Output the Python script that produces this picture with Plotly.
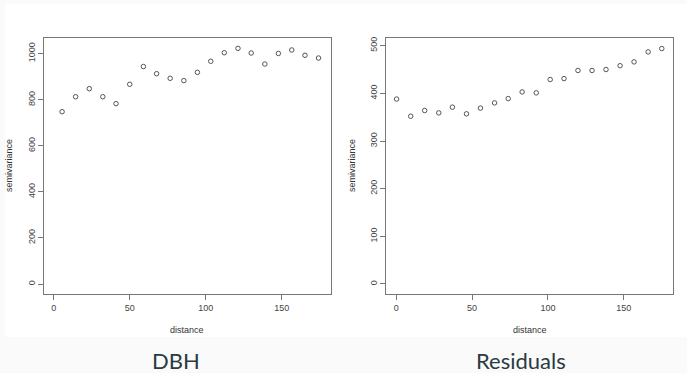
import plotly.graph_objects as go

# DBH variogram
dbh_dist = [5.5, 14.4, 23.4, 32.3, 41.0, 50.0, 59.0, 67.7, 76.6, 85.6,
            94.5, 103.3, 112.2, 121.2, 129.9, 138.9, 147.8, 156.6, 165.3, 174.2]
dbh_gamma = [748, 813, 848, 813, 783, 867, 944, 913, 893, 883,
             919, 967, 1004, 1023, 1003, 955, 1001, 1016, 993, 981]

# Residuals variogram
res_dist = [0.2, 9.5, 18.7, 28.0, 37.0, 46.3, 55.5, 64.8, 73.8, 83.0,
            92.3, 101.5, 110.6, 119.8, 129.1, 138.3, 147.6, 156.8, 166.1, 175.1]
res_gamma = [388, 352, 364, 359, 371, 357, 369, 380, 389, 403,
             401, 429, 431, 448, 448, 450, 458, 466, 487, 494]

titles = ["DBH", "Residuals"]
x_ticks = [0, 50, 100, 150]
y1_ticks = [0, 200, 400, 600, 800, 1000]
y2_ticks = [0, 100, 200, 300, 400, 500]

W, H = 687, 373

def px(x):
    return x / W

def py(y):
    return 1 - y / H

fig = go.Figure()
marker = dict(symbol="circle-open", size=4.5, color="#555555", line=dict(width=1, color="#555555"))
fig.add_trace(go.Scatter(x=dbh_dist, y=dbh_gamma, mode="markers", marker=marker,
                         xaxis="x", yaxis="y", showlegend=False))
fig.add_trace(go.Scatter(x=res_dist, y=res_gamma, mode="markers", marker=marker,
                         xaxis="x2", yaxis="y2", showlegend=False))

tickfont = dict(family="Liberation Sans, Arial, sans-serif", size=9, color="#444444")
common = dict(showgrid=False, zeroline=False, showline=True, mirror=True,
              linecolor="#777777", linewidth=1, ticks="outside", ticklen=5,
              tickwidth=1, tickcolor="#777777", tickfont=tickfont)

fig.update_layout(
    width=W, height=H, margin=dict(l=0, r=0, t=0, b=0),
    paper_bgcolor="#fafafa", plot_bgcolor="white",
    xaxis=dict(domain=[px(44.3), px(331)], range=[-6.2, 182.4], tickvals=x_ticks,
               anchor="y", **common),
    yaxis=dict(domain=[py(294), py(38.3)], range=[-43.4, 1066.7], tickvals=y1_ticks,
               tickangle=-90, anchor="x", **common),
    xaxis2=dict(domain=[px(386.3), px(673)], range=[-6.6, 182.5], tickvals=x_ticks,
                anchor="y2", **common),
    yaxis2=dict(domain=[py(294), py(38.3)], range=[-21, 515.5], tickvals=y2_ticks,
                tickangle=-90, anchor="x2", **common),
    shapes=[dict(type="rect", xref="paper", yref="paper", x0=px(5), x1=1,
                 y0=py(337), y1=py(4), fillcolor="white", line=dict(width=0), layer="below")],
)

labfont = dict(family="Liberation Sans, Arial, sans-serif", size=9, color="#333333")
ann = []
for xc in [9, 352]:
    ann.append(dict(text="semivariance", x=px(xc), y=py(166), xref="paper", yref="paper",
                    textangle=-90, showarrow=False, font=labfont, xanchor="center", yanchor="middle"))
for xc in [187, 530]:
    ann.append(dict(text="distance", x=px(xc), y=py(330), xref="paper", yref="paper",
                    showarrow=False, font=labfont, xanchor="center", yanchor="middle"))
for xc, t in zip([176, 521], titles):
    ann.append(dict(text=t, x=px(xc), y=py(360), xref="paper", yref="paper",
                    showarrow=False, font=dict(family="Lato, sans-serif", size=22, color="#2b3a42"),
                    xanchor="center", yanchor="middle"))
fig.update_layout(annotations=ann)

fig.write_html("out.html", config={"displayModeBar": False},
               post_script="document.body.style.margin='0';document.body.style.overflow='hidden';")
